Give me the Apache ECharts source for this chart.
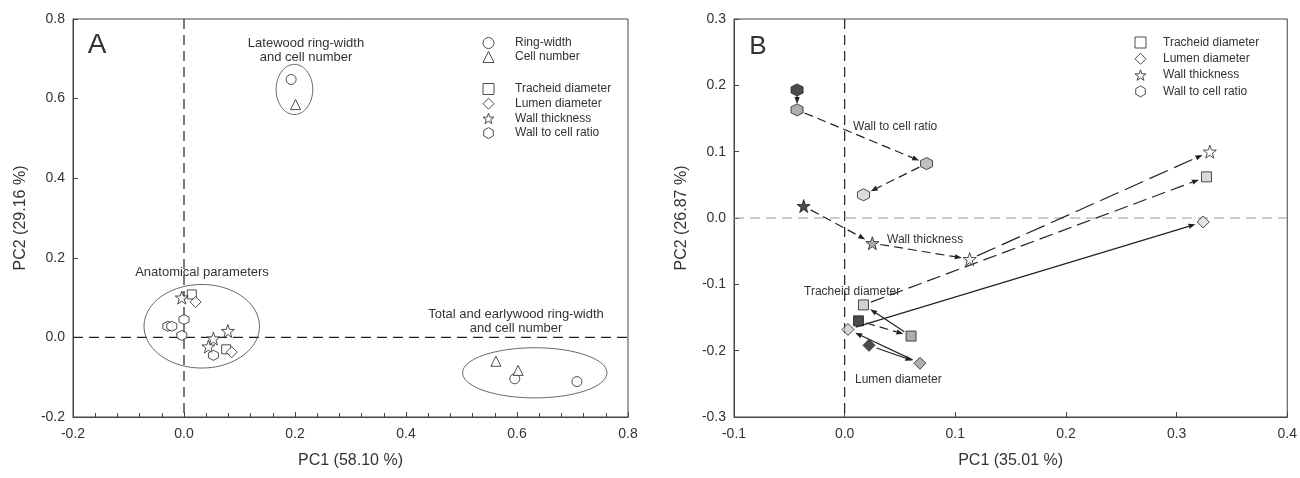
<!DOCTYPE html>
<html>
<head>
<meta charset="utf-8">
<script src="https://cdn.jsdelivr.net/npm/echarts@6/dist/echarts.min.js"></script>
<style>
  html, body { margin: 0; padding: 0; background: #fff; }
  #chart { width: 1300px; height: 478px; }
</style>
</head>
<body>
<div id="chart"></div>
<script>
// ---- panel A : loadings ----
const aRingWidth = [[0.193, 0.648], [0.596, -0.104], [0.708, -0.111]];
const aCellNumber = [[0.201, 0.585], [0.562, -0.060], [0.602, -0.083]];
const aTracheid = [[0.014, 0.108], [0.076, -0.030]];
const aLumen = [[0.021, 0.089], [0.086, -0.037]];
const aWallThick = [[-0.004, 0.100], [0.079, 0.016], [0.053, -0.003], [0.044, -0.023]];
const aWallRatio = [[-0.029, 0.028], [-0.022, 0.028], [0.000, 0.045], [-0.004, 0.005], [0.053, -0.045]];
// groups: centre x, centre y, radius x, radius y
const aGroups = [[0.199, 0.623, 0.033, 0.063], [0.032, 0.028, 0.104, 0.105], [0.632, -0.089, 0.130, 0.063]];

// ---- panel B : trajectories, 4 stages each ----
const bTracheid = [[0.0125, -0.155], [0.060, -0.178], [0.017, -0.131], [0.327, 0.062]];
const bLumen = [[0.022, -0.192], [0.068, -0.219], [0.003, -0.168], [0.324, -0.006]];
const bWallThick = [[-0.037, 0.018], [0.025, -0.038], [0.113, -0.062], [0.330, 0.100]];
const bWallRatio = [[-0.043, 0.193], [-0.043, 0.163], [0.074, 0.082], [0.017, 0.035]];

const legendA1 = ['Ring-width', 'Cell number'];
const legendA2 = ['Tracheid diameter', 'Lumen diameter', 'Wall thickness', 'Wall to cell ratio'];

const FONT = '"Liberation Sans", Arial, sans-serif';
const INK = '#222';
const STAR = 'path://M0,-10L2.35,-3.24L9.51,-3.09L3.8,1.24L5.88,8.09L0,4L-5.88,8.09L-3.8,1.24L-9.51,-3.09L-2.35,-3.24Z';
const HEX = 'path://M0,-10L8.66,-5L8.66,5L0,10L-8.66,5L-8.66,-5Z';

// stage fills & arrow line types for panel B
const fills = {
  tracheid: ['#1e1e1e', '#9a9a9a', '#c4c4c4', '#d0d0d0'],
  lumen: ['#1e1e1e', '#9a9a9a', '#cccccc', '#dddddd'],
  wallThick: ['#1e1e1e', '#9a9a9a', '#eeeeee', '#ffffff'],
  wallRatio: ['#1e1e1e', '#9a9a9a', '#b0b0b0', '#d2d2d2']
};
const dashTypes = { tracheid: [1, 0, 2], lumen: [0, 0, 0], wallThick: [1, 1, 3], wallRatio: [0, 1, 1] };
const dashes = [null, [9, 5], [14, 6], [20, 7]];

function toArrows(pts, kinds) {
  const out = [];
  for (let i = 0; i < pts.length - 1; i++) {
    out.push([pts[i][0], pts[i][1], pts[i + 1][0], pts[i + 1][1], kinds[i]]);
  }
  return out;
}

function renderArrow(params, api) {
  const a = api.coord([api.value(0), api.value(1)]);
  const b = api.coord([api.value(2), api.value(3)]);
  const dx = b[0] - a[0], dy = b[1] - a[1];
  const len = Math.hypot(dx, dy);
  const ux = dx / len, uy = dy / len;
  const s = Math.min(8, len * 0.3), e = Math.min(8, len * 0.3);
  const p1 = [a[0] + ux * s, a[1] + uy * s];
  const p2 = [b[0] - ux * e, b[1] - uy * e];
  const hl = 7, hw = 2.6;
  const base = [p2[0] - ux * hl, p2[1] - uy * hl];
  return {
    type: 'group',
    children: [
      { type: 'line', shape: { x1: p1[0], y1: p1[1], x2: base[0], y2: base[1] },
        style: { stroke: INK, lineWidth: 1.2, lineDash: dashes[api.value(4)] } },
      { type: 'polygon', shape: { points: [p2, [base[0] - uy * hw, base[1] + ux * hw], [base[0] + uy * hw, base[1] - ux * hw]] },
        style: { fill: INK } }
    ]
  };
}

function renderEllipse(params, api) {
  const cx = api.value(0), cy = api.value(1), rx = api.value(2), ry = api.value(3);
  const pts = [];
  for (let k = 0; k <= 90; k++) {
    const t = k / 90 * Math.PI * 2;
    pts.push(api.coord([cx + rx * Math.cos(t), cy + ry * Math.sin(t)]));
  }
  return { type: 'polyline', shape: { points: pts }, style: { stroke: '#666', fill: null, lineWidth: 1 } };
}

// dashed zero lines across the plot area
function zeroLines(vColor, hColor) {
  return function (params, api) {
    const cs = params.coordSys;
    const o = api.coord([0, 0]);
    return {
      type: 'group',
      children: [
        { type: 'line', shape: { x1: o[0], y1: cs.y, x2: o[0], y2: cs.y + cs.height },
          style: { stroke: vColor, lineWidth: 1.2, lineDash: [10, 6] } },
        { type: 'line', shape: { x1: cs.x, y1: o[1], x2: cs.x + cs.width, y2: o[1] },
          style: { stroke: hColor, lineWidth: 1.2, lineDash: [10, 6] } }
      ]
    };
  };
}

const whiteMark = { color: '#fff', borderColor: INK, borderWidth: 1 };

function scatterA(name, symbol, size, pts) {
  return { name, type: 'scatter', xAxisIndex: 0, yAxisIndex: 0, symbol, symbolSize: size,
    itemStyle: whiteMark, data: pts, z: 5, silent: true };
}
function scatterB(name, symbol, size, pts, fill) {
  return { name, type: 'scatter', xAxisIndex: 1, yAxisIndex: 1, symbol, symbolSize: size,
    itemStyle: whiteMark, z: 5, silent: true,
    data: pts.map((p, i) => ({ value: p, itemStyle: { color: fill[i] } })) };
}

const tickFmt = v => v.toFixed(1);
function xAxisOf(idx, min, max, interval, name, minor) {
  return {
    type: 'value', gridIndex: idx, min, max, interval, name,
    nameLocation: 'middle', nameGap: 36,
    nameTextStyle: { fontFamily: FONT, fontSize: 16, color: '#333' },
    axisLine: { onZero: false, lineStyle: { color: '#444' } },
    axisTick: { inside: true, length: 5, lineStyle: { color: '#444' } },
    minorTick: { show: minor, splitNumber: 5, length: 4, lineStyle: { color: '#444' } },
    axisLabel: { formatter: tickFmt, fontFamily: FONT, fontSize: 14, color: '#333', margin: 10 },
    splitLine: { show: false }
  };
}
function yAxisOf(idx, min, max, interval, name) {
  return {
    type: 'value', gridIndex: idx, min, max, interval, name,
    nameLocation: 'middle', nameGap: 44,
    nameTextStyle: { fontFamily: FONT, fontSize: 16, color: '#333' },
    axisLine: { show: true, onZero: false, lineStyle: { color: '#444' } },
    axisTick: { show: true, inside: true, length: 5, lineStyle: { color: '#444' } },
    axisLabel: { formatter: tickFmt, fontFamily: FONT, fontSize: 14, color: '#333', margin: 8 },
    splitLine: { show: false }
  };
}

function legendOf(names, left, top, gap, pad) {
  return {
    data: names, orient: 'vertical', left, top, padding: 0,
    itemWidth: 11, itemHeight: 11, itemGap: gap, selectedMode: false,
    itemStyle: { color: '#fff', borderColor: INK, borderWidth: 1 },
    textStyle: { fontFamily: FONT, fontSize: 12, color: '#333', lineHeight: 14, padding: [0, 0, 0, pad] }
  };
}

function txt(text, x, y, size, align) {
  return { type: 'text', x, y, silent: true,
    style: { text, fill: '#333', font: size + 'px ' + FONT, align: align || 'center', verticalAlign: 'middle', lineHeight: 14 } };
}

const chart = echarts.init(document.getElementById('chart'));
const option = {
  animation: false,
  backgroundColor: '#fff',
  grid: [
    { left: 73, top: 19, width: 555, height: 398, show: true, borderColor: '#444', borderWidth: 1 },
    { left: 734, top: 19, width: 554, height: 398, show: true, borderColor: '#444', borderWidth: 1 }
  ],
  xAxis: [
    xAxisOf(0, -0.2, 0.8, 0.2, 'PC1 (58.10 %)', true),
    xAxisOf(1, -0.1, 0.4, 0.1, 'PC1 (35.01 %)', false)
  ],
  yAxis: [
    yAxisOf(0, -0.2, 0.8, 0.2, 'PC2 (29.16 %)'),
    yAxisOf(1, -0.3, 0.3, 0.1, 'PC2 (26.87 %)')
  ],
  legend: [
    legendOf(legendA1, 482.5, 36, 0, 16),
    legendOf(legendA2, 482.5, 82, 0.7, 16),
    legendOf(legendA2, 1134.5, 35.5, 2.3, 12)
  ],
  graphic: [
    txt('A', 97, 45, 28),
    txt('Latewood ring-width\nand cell number', 306, 50, 13),
    txt('Anatomical parameters', 202, 272, 13),
    txt('Total and earlywood ring-width\nand cell number', 516, 321, 13),
    txt('B', 758, 47, 26),
    txt('Wall to cell ratio', 853, 127, 12, 'left'),
    txt('Wall thickness', 887, 240, 12, 'left'),
    txt('Tracheid diameter', 804, 292, 12, 'left'),
    txt('Lumen diameter', 855, 380, 12, 'left')
  ],
  series: [
    {
      type: 'custom', xAxisIndex: 0, yAxisIndex: 0, renderItem: zeroLines(INK, INK),
      data: [[0, 0]], silent: true, z: 1
    },
    {
      type: 'custom', xAxisIndex: 1, yAxisIndex: 1, renderItem: zeroLines(INK, '#999'),
      data: [[0, 0]], silent: true, z: 1
    },
    {
      type: 'custom', xAxisIndex: 0, yAxisIndex: 0, renderItem: renderEllipse,
      data: aGroups, silent: true, z: 2
    },
    scatterA('Ring-width', 'circle', 10, aRingWidth),
    scatterA('Cell number', 'triangle', 10, aCellNumber),
    scatterA('Tracheid diameter', 'rect', 9, aTracheid),
    scatterA('Lumen diameter', 'diamond', 11, aLumen),
    scatterA('Wall thickness', STAR, 13, aWallThick),
    scatterA('Wall to cell ratio', HEX, 10, aWallRatio),
    {
      type: 'custom', xAxisIndex: 1, yAxisIndex: 1, renderItem: renderArrow, silent: true, z: 3,
      data: [].concat(
        toArrows(bTracheid, dashTypes.tracheid),
        toArrows(bLumen, dashTypes.lumen),
        toArrows(bWallThick, dashTypes.wallThick),
        toArrows(bWallRatio, dashTypes.wallRatio)
      )
    },
    scatterB('Tracheid diameter', 'rect', 10, bTracheid, fills.tracheid),
    scatterB('Lumen diameter', 'diamond', 12, bLumen, fills.lumen),
    scatterB('Wall thickness', STAR, 13, bWallThick, fills.wallThick),
    scatterB('Wall to cell ratio', HEX, 12, bWallRatio, fills.wallRatio)
  ]
};
chart.setOption(option);
</script>
</body>
</html>
